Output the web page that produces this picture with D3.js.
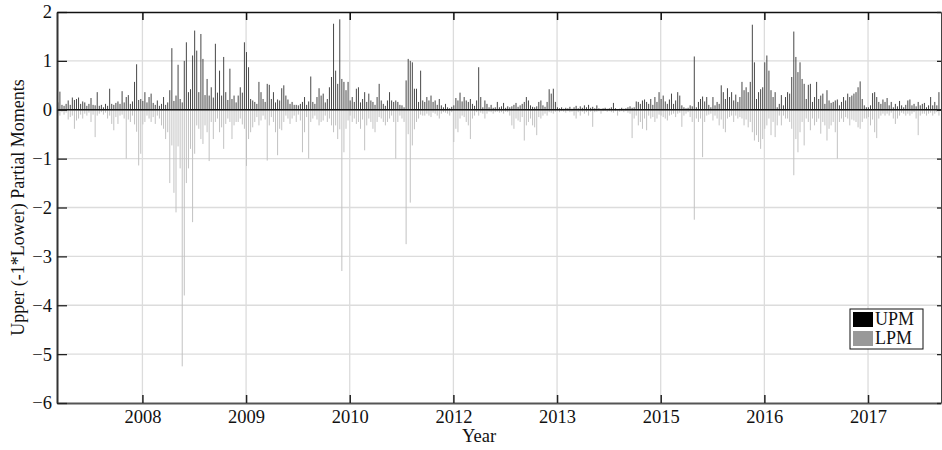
<!DOCTYPE html>
<html lang="en">
<head>
<meta charset="UTF-8">
<title>UPM / LPM</title>
<script src="https://cdn.jsdelivr.net/npm/d3@7"></script>
<style>
  body { margin: 0; background: #fff; }
  svg { display: block; font-family: "Liberation Serif", "Times New Roman", serif; }
</style>
</head>
<body>
<script>
// observation index of the first bar and spacing between bars
const obsStart = 46, obsStep = 5;

const upm = [
  0.15,0.37,0.1,0.08,0.12,0.19,0.1,0.25,0.2,0.22,
  0.25,0.12,0.17,0.15,0.08,0.12,0.24,0.1,0.09,0.36,
  0.08,0.1,0.05,0.12,0.08,0.43,0.12,0.1,0.14,0.17,
  0.12,0.38,0.15,0.26,0.3,0.12,0.17,0.57,0.93,0.2,
  0.22,0.18,0.36,0.15,0.26,0.33,0.14,0.1,0.19,0.08,
  0.12,0.26,0.1,0.15,0.4,1.26,0.18,0.29,0.92,0.22,
  0.15,1.0,1.38,0.36,0.42,1.11,1.62,1.21,0.36,1.55,
  1.04,0.3,0.63,0.29,0.46,0.25,1.35,0.35,0.8,0.29,
  1.08,0.36,0.2,0.84,0.22,0.29,0.15,0.29,0.46,0.35,
  1.38,1.18,0.87,0.22,0.19,0.16,0.12,0.57,0.36,0.22,
  0.16,0.53,0.51,0.22,0.36,0.15,0.21,0.19,0.44,0.5,
  0.29,0.21,0.12,0.16,0.1,0.1,0.09,0.12,0.16,0.26,
  0.1,0.17,0.68,0.16,0.12,0.26,0.44,0.29,0.33,0.15,
  0.22,0.46,0.67,1.76,0.8,0.53,1.85,0.63,0.57,0.4,
  0.57,0.19,0.26,0.16,0.43,0.46,0.15,0.22,0.36,0.16,
  0.33,0.19,0.16,0.1,0.26,0.53,0.19,0.12,0.08,0.19,
  0.36,0.19,0.16,0.19,0.16,0.1,0.09,0.05,0.6,1.04,
  1.0,0.97,0.43,0.43,0.16,0.8,0.19,0.16,0.26,0.19,
  0.29,0.16,0.19,0.1,0.22,0.09,0.05,0.12,0.05,0.03,
  0.06,0.09,0.24,0.19,0.35,0.17,0.26,0.19,0.16,0.22,
  0.12,0.08,0.19,0.87,0.26,0.05,0.19,0.12,0.05,0.1,
  0.04,0.05,0.16,0.05,0.07,0.14,0.04,0.07,0.05,0.07,
  0.1,0.14,0.06,0.09,0.12,0.16,0.26,0.19,0.09,0.06,
  0.05,0.07,0.16,0.19,0.09,0.06,0.16,0.42,0.33,0.43,
  0.16,0.05,0.03,0.05,0.02,0.04,0.03,0.06,0.02,0.05,
  0.08,0.03,0.07,0.04,0.09,0.05,0.1,0.04,0.06,0.03,
  0.09,0.03,0.02,0.03,0.04,0.02,0.03,0.05,0.14,0.03,
  0.01,0.02,0.04,0.02,0.03,0.05,0.07,0.04,0.05,0.17,
  0.16,0.12,0.19,0.21,0.16,0.12,0.22,0.1,0.26,0.16,
  0.36,0.22,0.29,0.17,0.12,0.21,0.33,0.12,0.19,0.36,
  0.29,0.09,0.05,0.03,0.04,0.09,0.07,1.09,0.05,0.16,
  0.22,0.27,0.17,0.26,0.1,0.05,0.26,0.09,0.16,0.12,
  0.5,0.36,0.22,0.44,0.26,0.36,0.19,0.31,0.16,0.26,
  0.57,0.4,0.46,0.36,0.57,1.74,0.97,0.22,0.36,0.42,
  0.46,0.97,1.11,0.8,0.4,0.26,0.36,0.05,0.12,0.3,
  0.09,0.26,0.36,0.33,0.67,1.6,1.08,0.77,0.97,0.63,
  0.53,0.22,0.51,0.53,0.16,0.26,0.57,0.22,0.29,0.33,
  0.12,0.4,0.19,0.14,0.16,0.19,0.21,0.09,0.16,0.26,
  0.19,0.33,0.26,0.29,0.33,0.36,0.46,0.58,0.22,0.09,
  0.05,0.05,0.09,0.34,0.36,0.26,0.16,0.12,0.21,0.16,
  0.24,0.09,0.16,0.05,0.12,0.07,0.18,0.09,0.05,0.1,
  0.19,0.21,0.09,0.12,0.07,0.16,0.09,0.12,0.14,0.05,
  0.09,0.26,0.09,0.16,0.09,0.36
];

const lpm = [
  -0.08,-0.12,-0.05,-0.1,-0.06,-0.2,-0.15,-0.12,-0.39,-0.22,
  -0.18,-0.1,-0.18,-0.08,-0.12,-0.06,-0.25,-0.1,-0.56,-0.12,
  -0.08,-0.05,-0.1,-0.06,-0.18,-0.12,-0.29,-0.42,-0.15,-0.29,
  -0.12,-0.1,-0.18,-1.0,-0.2,-0.25,-0.12,-0.3,-0.45,-1.14,
  -0.9,-0.3,-0.25,-0.12,-0.18,-0.25,-0.15,-0.29,-0.12,-0.18,
  -0.32,-0.39,-0.6,-0.46,-1.5,-0.73,-1.7,-2.1,-0.75,-1.2,
  -5.25,-3.8,-1.5,-1.2,-0.8,-2.3,-0.9,-0.32,-0.39,-0.6,
  -0.7,-0.32,-0.46,-1.05,-0.25,-0.6,-0.25,-0.18,-0.46,-0.36,
  -0.8,-0.29,-0.18,-0.25,-0.6,-0.32,-0.25,-0.25,-0.18,-0.3,
  -0.39,-1.15,-0.6,-0.46,-0.36,-0.25,-0.15,-0.32,-0.22,-0.12,
  -0.2,-1.04,-0.32,-0.15,-0.25,-0.46,-0.93,-0.39,-0.42,-0.25,
  -0.12,-0.18,-0.29,-0.18,-0.12,-0.25,-0.1,-0.22,-0.87,-0.46,
  -0.15,-1.0,-0.25,-0.18,-0.12,-0.2,-0.32,-0.25,-0.22,-0.12,
  -0.25,-0.18,-0.32,-0.46,-0.32,-0.6,-0.4,-3.3,-0.87,-0.39,
  -0.22,-0.12,-0.25,-0.18,-0.29,-0.25,-0.39,-0.2,-0.83,-0.32,
  -0.18,-0.25,-0.39,-0.46,-0.25,-0.15,-0.18,-0.25,-0.32,-0.25,
  -0.18,-0.12,-0.25,-1.0,-0.25,-0.12,-0.18,-0.25,-2.75,-0.5,
  -1.9,-0.73,-0.4,-0.25,-0.18,-0.1,-0.12,-0.12,-0.08,-0.12,
  -0.15,-0.06,-0.08,-0.12,-0.18,-0.08,-0.05,-0.06,-0.08,-0.12,
  -0.05,-0.66,-0.39,-0.46,-0.18,-0.12,-0.15,-0.25,-0.32,-0.6,
  -0.18,-0.12,-0.05,-0.12,-0.06,-0.08,-0.18,-0.08,-0.04,-0.05,
  -0.08,-0.05,-0.04,-0.06,-0.05,-0.08,-0.04,-0.05,-0.12,-0.32,
  -0.39,-0.18,-0.22,-0.25,-0.15,-0.63,-0.32,-0.25,-0.18,-0.32,
  -0.36,-0.52,-0.15,-0.18,-0.12,-0.08,-0.12,-0.05,-0.06,-0.08,
  -0.04,-0.03,-0.05,-0.03,-0.04,-0.06,-0.03,-0.05,-0.04,-0.12,
  -0.18,-0.05,-0.12,-0.04,-0.08,-0.05,-0.12,-0.04,-0.35,-0.05,
  -0.04,-0.03,-0.08,-0.03,-0.02,-0.04,-0.03,-0.05,-0.06,-0.03,
  -0.12,-0.04,-0.03,-0.05,-0.03,-0.06,-0.08,-0.58,-0.18,-0.12,
  -0.32,-0.25,-0.39,-0.18,-0.42,-0.12,-0.18,-0.15,-0.25,-0.18,
  -0.1,-0.12,-0.15,-0.18,-0.22,-0.12,-0.1,-0.08,-0.15,-0.08,
  -0.06,-0.35,-0.12,-0.08,-0.05,-0.15,-0.25,-2.25,-0.18,-0.25,
  -0.18,-0.97,-0.25,-0.12,-0.1,-0.08,-0.22,-0.12,-0.18,-0.32,
  -0.2,-0.39,-0.46,-0.18,-0.15,-0.12,-0.25,-0.12,-0.18,-0.15,
  -0.18,-0.32,-0.2,-0.36,-0.25,-0.46,-0.63,-0.52,-0.66,-0.8,
  -0.6,-0.39,-0.32,-0.18,-0.52,-0.25,-0.56,-0.32,-0.12,-0.32,
  -0.12,-0.18,-0.18,-0.25,-0.39,-1.34,-0.6,-0.87,-0.46,-0.25,
  -0.73,-0.18,-0.25,-0.42,-0.18,-0.32,-0.25,-0.18,-0.49,-0.25,
  -0.32,-0.63,-0.39,-0.32,-0.25,-0.46,-1.0,-0.25,-0.18,-0.25,
  -0.15,-0.18,-0.32,-0.2,-0.22,-0.25,-0.36,-0.39,-0.25,-0.18,
  -0.18,-0.15,-0.32,-0.2,-0.46,-0.58,-0.18,-0.12,-0.08,-0.12,
  -0.08,-0.12,-0.06,-0.18,-0.29,-0.18,-0.12,-0.06,-0.08,-0.12,
  -0.08,-0.12,-0.08,-0.05,-0.18,-0.52,-0.12,-0.08,-0.08,-0.12,
  -0.08,-0.06,-0.12,-0.08,-0.05,-0.12
];

const yearTicks = [250, 500, 750, 1000, 1250, 1500, 1750, 2000];
const yearLabels = ["2008", "2009", "2010", "2012", "2013", "2015", "2016", "2017"];
const yTicks = [-6, -5, -4, -3, -2, -1, 0, 1, 2];
const seriesNames = ["UPM", "LPM"];

const W = 942, H = 450;
const plotLeft = 57, plotRight = 941, plotTop = 12, plotBottom = 403;

const svg = d3.select("body").append("svg")
    .attr("width", W)
    .attr("height", H);

let x = d3.scaleLinear().domain([44, 2176]).range([plotLeft, plotRight]);
let y = d3.scaleLinear().domain([-6, 2]).range([plotBottom, plotTop]);

// grid
svg.append("g").selectAll("line")
    .data(yearTicks).join("line")
    .attr("x1", d => x(d)).attr("x2", d => x(d))
    .attr("y1", plotTop).attr("y2", plotBottom)
    .attr("stroke", "#dcdcdc").attr("stroke-width", 1.3);
svg.append("g").selectAll("line")
    .data(yTicks.filter(d => d > -6 && d < 2)).join("line")
    .attr("x1", plotLeft).attr("x2", plotRight)
    .attr("y1", d => y(d)).attr("y2", d => y(d))
    .attr("stroke", "#dcdcdc").attr("stroke-width", 1.3);

let toBars = arr => arr.map((v, i) => ({ obs: obsStart + i * obsStep, v: v }));

let drawBars = (arr, color) => {
    svg.append("g").selectAll("line")
        .data(toBars(arr)).join("line")
        .attr("x1", d => x(d.obs)).attr("x2", d => x(d.obs))
        .attr("y1", y(0)).attr("y2", d => y(d.v))
        .attr("stroke", color).attr("stroke-width", 1);
};
drawBars(lpm, "#c2c2c2");
drawBars(upm, "#474747");

// baseline
svg.append("line")
    .attr("x1", plotLeft).attr("x2", plotRight)
    .attr("y1", y(0)).attr("y2", y(0))
    .attr("stroke", "#111").attr("stroke-width", 1.5);

// axes
let xAxis = d3.axisBottom(x).tickValues(yearTicks)
    .tickFormat((d, i) => yearLabels[i])
    .tickSize(-8).tickSizeOuter(0).tickPadding(7);
let gx = svg.append("g").attr("transform", `translate(0,${plotBottom})`).call(xAxis);

let yAxis = d3.axisLeft(y).tickValues(yTicks)
    .tickFormat(d3.format("d"))
    .tickSize(-10).tickSizeOuter(0).tickPadding(5);
let gy = svg.append("g").attr("transform", `translate(${plotLeft},0)`).call(yAxis);

let gt = svg.append("g").attr("transform", `translate(0,${plotTop})`)
    .call(d3.axisTop(x).tickValues(yearTicks).tickFormat("").tickSize(-8).tickSizeOuter(0));
let gr = svg.append("g").attr("transform", `translate(${plotRight},0)`)
    .call(d3.axisRight(y).tickValues(yTicks).tickFormat("").tickSize(-4).tickSizeOuter(0));

[gx, gy].forEach(g => {
    g.selectAll("text")
        .attr("font-family", "Liberation Serif, serif")
        .attr("font-size", 18.5)
        .attr("fill", "#111");
});
gx.select(".domain").attr("stroke", "#555").attr("stroke-width", 2);
gx.selectAll(".tick line").attr("stroke", "#222").attr("stroke-width", 1.5);
gy.select(".domain").attr("stroke", "#333").attr("stroke-width", 2);
gy.selectAll(".tick line").attr("stroke", "#222").attr("stroke-width", 1.3);
gt.select(".domain").attr("stroke", "#111").attr("stroke-width", 1.4);
gt.selectAll(".tick line").attr("stroke", "#111").attr("stroke-width", 1.5);
gr.select(".domain").attr("stroke", "#444").attr("stroke-width", 1);
gr.selectAll(".tick line").attr("stroke", "#222").attr("stroke-width", 1.3);

// axis titles
svg.append("text")
    .attr("x", (plotLeft + plotRight) / 2 - 20).attr("y", 442)
    .attr("text-anchor", "middle")
    .attr("font-size", 18.5).attr("fill", "#111")
    .text("Year");
svg.append("text")
    .attr("transform", `translate(23.5,${(plotTop + plotBottom) / 2}) rotate(-90)`)
    .attr("text-anchor", "middle")
    .attr("font-size", 18).attr("fill", "#111")
    .text("Upper (-1*Lower) Partial Moments");

// legend
let legend = svg.append("g").attr("transform", "translate(850,309)");
legend.append("rect")
    .attr("width", 73).attr("height", 40)
    .attr("fill", "#fff").attr("stroke", "#111").attr("stroke-width", 1);
let swatchColors = ["#000", "#999"];
seriesNames.forEach((name, i) => {
    legend.append("rect")
        .attr("x", 3).attr("y", 3 + i * 19)
        .attr("width", 20).attr("height", 15)
        .attr("fill", swatchColors[i]);
    legend.append("text")
        .attr("x", 25).attr("y", 16 + i * 19)
        .attr("font-size", 18).attr("fill", "#111")
        .text(name);
});
</script>
</body>
</html>
